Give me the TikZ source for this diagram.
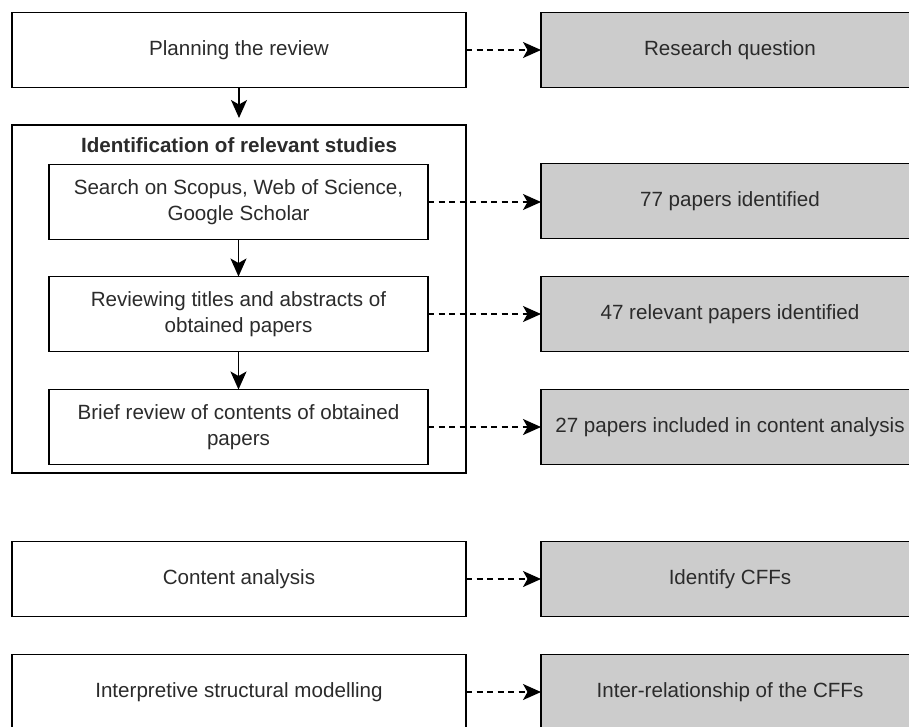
\documentclass[tikz,border=0pt]{standalone}
\usepackage{fontspec}
\setmainfont{Liberation Sans}
\usetikzlibrary{arrows.meta}
\definecolor{boxgray}{HTML}{CCCCCC}
\definecolor{txt}{HTML}{2B2B2B}
\tikzset{
  headtip/.tip={Stealth[length=18pt,width=16pt,inset=4.5pt]}
}
\begin{document}
\begin{tikzpicture}[x=1pt,y=-1pt,
  every node/.style={inner sep=0pt,outer sep=0pt,text=txt,
    font=\fontsize{20.6}{25.8}\selectfont,align=center},
  leftbox/.style={draw=black,line width=1.6pt,fill=white,
    minimum width=454pt,minimum height=75pt},
  innerbox/.style={draw=black,line width=1.6pt,fill=white,
    minimum width=379pt,minimum height=75pt},
  groupbox/.style={draw=black,line width=1.6pt,
    minimum width=454pt,minimum height=348pt},
  resultbox/.style={draw=black,line width=1.6pt,fill=boxgray,
    minimum width=378pt,minimum height=75pt},
  flow/.style={draw=black,line width=1.6pt,-headtip},
  link/.style={draw=black,line width=1.5pt,dash pattern=on 6pt off 4.5pt,-headtip}
]
\useasboundingbox (0,0) rectangle (909,726);
\clip (0,0) rectangle (909,726);
\fill[white] (0,0) rectangle (909,726);

% left column
\node[leftbox] (plan) at (239,50) {Planning the review};
\node[groupbox] (idgroup) at (239,299) {};
\node[font=\fontsize{20.6}{25.8}\selectfont\bfseries] (idtitle) at (239,145)
  {Identification of relevant studies};
\node[innerbox] (search) at (238.5,202) {Search on Scopus, Web of Science,\\Google Scholar};
\node[innerbox] (titles) at (238.5,314) {Reviewing titles and abstracts of\\obtained papers};
\node[innerbox] (brief) at (238.5,427) {Brief review of contents of obtained\\papers};
\node[leftbox] (content) at (239,579) {Content analysis};
\node[leftbox] (ism) at (239,692) {Interpretive structural modelling};

% right column
\node[resultbox] (rq) at (730,50) {Research question};
\node[resultbox] (found) at (730,201) {77 papers identified};
\node[resultbox] (relevant) at (730,314) {47 relevant papers identified};
\node[resultbox] (included) at (730,427) {27 papers included in content analysis};
\node[resultbox] (cffs) at (730,579) {Identify CFFs};
\node[resultbox] (relation) at (730,692) {Inter-relationship of the CFFs};

% process flow
\draw[flow,shorten >=7pt] (plan) -- (idgroup);
\draw[flow] (search) -- (titles);
\draw[flow] (titles) -- (brief);

% outputs
\draw[link] (plan) -- (rq);
\draw[link] (search.east) -- (search.east -| found.west);
\draw[link] (titles) -- (relevant);
\draw[link] (brief) -- (included);
\draw[link] (content) -- (cffs);
\draw[link] (ism) -- (relation);
\end{tikzpicture}
\end{document}
